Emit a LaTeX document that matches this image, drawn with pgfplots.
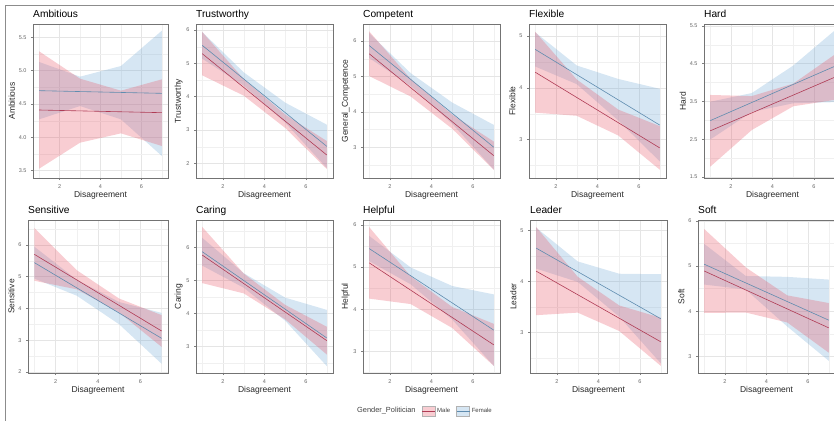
\documentclass[border=0pt]{standalone}
\usepackage{pgfplots}
\pgfplotsset{compat=1.18}
\usepackage{fontspec}
\setmainfont{Liberation Sans}
\definecolor{malefill}{RGB}{232,88,105}
\definecolor{femfill}{RGB}{118,172,215}
\definecolor{maleline}{HTML}{AF3C55}
\definecolor{femline}{HTML}{5F8CAF}
\pgfplotsset{
  panel/.style={
    scale only axis, width=137pt, height=154pt, anchor=north west,
    xmin=0.7, xmax=7.3, xtick={2,4,6}, minor xtick={1,3,5,7},
    grid=both,
    major grid style={draw=black!10, line width=0.45pt},
    minor grid style={draw=black!6, line width=0.3pt},
    axis line style={draw=black!55, line width=0.7pt},
    tick align=outside, major tick length=2pt, minor tick length=0pt,
    tick style={black!50, line width=0.4pt},
    xtick pos=bottom, ytick pos=left,
    ticklabel style={font=\fontsize{5.5}{6}\selectfont, text=black!60},
    xticklabel style={yshift=-1pt},
    yticklabel style={xshift=-1pt},
    /pgf/number format/assume math mode=true,
    xlabel={Disagreement},
    xlabel style={font=\fontsize{8.5}{9}\selectfont, text=black!85, yshift=3.5pt},
    ylabel style={font=\fontsize{8.5}{9}\selectfont, text=black!85, yshift=-3pt},
    title style={at={(0,1)}, anchor=base west, font=\fontsize{10.2}{11}\selectfont, inner sep=0pt, yshift=0.7pt},
  },
  fband/.style={draw=none, fill=femfill, fill opacity=0.3, forget plot},
  mband/.style={draw=none, fill=malefill, fill opacity=0.3, forget plot},
  fline/.style={femline, line width=0.6pt, forget plot},
  mline/.style={maleline, line width=0.6pt, forget plot},
}
\begin{document}
\begin{tikzpicture}
\path[use as bounding box] (0pt,0pt) rectangle (834pt,-420pt);
\clip (0pt,0pt) rectangle (834pt,-420pt);
\draw[black!45, line width=0.8pt] (5pt,-425pt) -- (5pt,-5pt) -- (840pt,-5pt);

% ---------- Row 1 ----------
\begin{axis}[panel, at={(33pt,-24pt)}, width=135pt,
  ymin=3.39, ymax=5.70, ytick={3.5,4,4.5,5,5.5}, yticklabels={3.5,4.0,4.5,5.0,5.5},
  minor ytick={3.75,4.25,4.75,5.25}, title={Ambitious}, ylabel={Ambitious}]
\addplot[fband] coordinates {(1,5.13)(3,4.91)(5,5.07)(7,5.60)(7,3.72)(5,4.27)(3,4.47)(1,4.27)} -- cycle;
\addplot[mband] coordinates {(1,5.29)(3,4.88)(5,4.70)(7,4.87)(7,3.87)(5,4.06)(3,3.92)(1,3.53)} -- cycle;
\addplot[fline] coordinates {(1,4.70)(7,4.66)};
\addplot[mline] coordinates {(1,4.41)(7,4.37)};
\end{axis}

\begin{axis}[panel, at={(196pt,-24pt)},
  ymin=1.56, ymax=6.18, ytick={2,3,4,5,6}, minor ytick={2.5,3.5,4.5,5.5},
  title={Trustworthy}, ylabel={Trustworthy}]
\addplot[fband] coordinates {(1,5.94)(3,4.73)(5,3.82)(7,3.16)(7,1.86)(5,3.22)(3,4.33)(1,5.14)} -- cycle;
\addplot[mband] coordinates {(1,5.94)(3,4.53)(5,3.46)(7,2.67)(7,1.83)(5,3.06)(3,4.03)(1,4.64)} -- cycle;
\addplot[fline] coordinates {(1,5.54)(7,2.51)};
\addplot[mline] coordinates {(1,5.29)(7,2.25)};
\end{axis}

\begin{axis}[panel, at={(363pt,-24pt)},
  ymin=2.13, ymax=6.48, ytick={3,4,5,6}, minor ytick={2.5,3.5,4.5,5.5},
  title={Competent}, ylabel={General\_Competence}]
\addplot[fband] coordinates {(1,6.22)(3,5.09)(5,4.26)(7,3.63)(7,2.37)(5,3.66)(3,4.73)(1,5.52)} -- cycle;
\addplot[mband] coordinates {(1,6.27)(3,4.93)(5,3.92)(7,3.16)(7,2.36)(5,3.52)(3,4.43)(1,5.01)} -- cycle;
\addplot[fline] coordinates {(1,5.87)(7,3.00)};
\addplot[mline] coordinates {(1,5.64)(7,2.76)};
\end{axis}

\begin{axis}[panel, at={(529pt,-24pt)},
  ymin=2.26, ymax=5.23, ytick={3,4,5}, minor ytick={2.5,3.5,4.5},
  title={Flexible}, ylabel={Flexible}]
\addplot[fband] coordinates {(1,5.07)(3,4.43)(5,4.17)(7,3.98)(7,2.58)(5,3.37)(3,4.07)(1,4.41)} -- cycle;
\addplot[mband] coordinates {(1,5.08)(3,4.16)(5,3.58)(7,3.26)(7,2.42)(5,3.08)(3,3.46)(1,3.52)} -- cycle;
\addplot[fline] coordinates {(1,4.74)(7,3.28)};
\addplot[mline] coordinates {(1,4.30)(7,2.84)};
\end{axis}

\begin{axis}[panel, at={(704pt,-24pt)},
  ymin=1.47, ymax=5.55, ytick={1.5,2.5,3.5,4.5,5.5}, minor ytick={2,3,4,5},
  title={Hard}, ylabel={Hard}]
\addplot[fband] coordinates {(1,3.49)(3,3.72)(5,4.45)(7,5.38)(7,3.48)(5,3.45)(3,3.22)(1,2.49)} -- cycle;
\addplot[mband] coordinates {(1,3.67)(3,3.64)(5,3.97)(7,4.74)(7,3.54)(5,3.37)(3,2.74)(1,1.77)} -- cycle;
\addplot[fline] coordinates {(1,2.99)(7,4.43)};
\addplot[mline] coordinates {(1,2.72)(7,4.14)};
\end{axis}

% ---------- Row 2 ----------
\begin{axis}[panel, at={(28pt,-220pt)}, width=140pt, height=153pt,
  ymin=1.97, ymax=6.78, ytick={2,3,4,5,6}, minor ytick={2.5,3.5,4.5,5.5,6.5},
  title={Sensitive}, ylabel={Sensitive}]
\addplot[fband] coordinates {(1,5.94)(3,4.90)(5,4.20)(7,3.86)(7,2.26)(5,3.50)(3,4.40)(1,4.94)} -- cycle;
\addplot[mband] coordinates {(1,6.53)(3,5.20)(5,4.31)(7,3.79)(7,2.79)(5,3.87)(3,4.60)(1,4.87)} -- cycle;
\addplot[fline] coordinates {(1,5.44)(7,3.06)};
\addplot[mline] coordinates {(1,5.70)(7,3.29)};
\end{axis}

\begin{axis}[panel, at={(196pt,-220pt)}, height=153pt,
  ymin=2.20, ymax=6.83, ytick={3,4,5,6}, minor ytick={2.5,3.5,4.5,5.5,6.5},
  title={Caring}, ylabel={Caring}]
\addplot[fband] coordinates {(1,6.29)(3,5.22)(5,4.48)(7,4.11)(7,2.41)(5,3.78)(3,4.78)(1,5.45)} -- cycle;
\addplot[mband] coordinates {(1,6.62)(3,5.21)(5,4.26)(7,3.60)(7,2.76)(5,3.82)(3,4.61)(1,4.92)} -- cycle;
\addplot[fline] coordinates {(1,5.87)(7,3.26)};
\addplot[mline] coordinates {(1,5.77)(7,3.18)};
\end{axis}

\begin{axis}[panel, at={(363pt,-220pt)}, height=153pt,
  ymin=2.48, ymax=6.12, ytick={3,4,5,6}, minor ytick={2.5,3.5,4.5,5.5},
  title={Helpful}, ylabel={Helpful},
  legend style={at={(0.449,-0.248)}, anchor=center, draw=none, fill=none,
    legend columns=3, font=\fontsize{6}{7}\selectfont, text=black!75,
    /tikz/every even column/.append style={column sep=4pt},
    legend cell align=left}]
\addplot[fband] coordinates {(1,5.74)(3,4.99)(5,4.55)(7,4.35)(7,2.65)(5,3.75)(3,4.59)(1,5.14)} -- cycle;
\addplot[mband] coordinates {(1,5.95)(3,4.78)(5,4.05)(7,3.65)(7,2.65)(5,3.55)(3,4.12)(1,4.25)} -- cycle;
\addplot[fline] coordinates {(1,5.44)(7,3.50)};
\addplot[mline] coordinates {(1,5.10)(7,3.15)};
\addlegendimage{empty legend}
\addlegendentry{\fontsize{7.4}{8}\selectfont Gender\_Politician}
\addlegendimage{legend image code/.code={
  \fill[malefill!30] (0pt,-5pt) rectangle (13pt,5pt);
  \draw[black!30, line width=0.3pt] (0pt,-5pt) rectangle (13pt,5pt);
  \draw[maleline, line width=0.6pt] (0pt,0pt) -- (13pt,0pt);}}
\addlegendentry{Male}
\addlegendimage{legend image code/.code={
  \fill[femfill!30] (0pt,-5pt) rectangle (13pt,5pt);
  \draw[black!30, line width=0.3pt] (0pt,-5pt) rectangle (13pt,5pt);
  \draw[femline, line width=0.6pt] (0pt,0pt) -- (13pt,0pt);}}
\addlegendentry{Female}
\end{axis}

\begin{axis}[panel, at={(530pt,-220pt)}, height=153pt,
  ymin=2.21, ymax=5.20, ytick={3,4,5}, minor ytick={2.5,3.5,4.5},
  title={Leader}, ylabel={Leader}]
\addplot[fband] coordinates {(1,5.05)(3,4.39)(5,4.15)(7,4.14)(7,2.40)(5,3.31)(3,3.99)(1,4.25)} -- cycle;
\addplot[mband] coordinates {(1,5.06)(3,4.09)(5,3.53)(7,3.29)(7,2.35)(5,3.03)(3,3.39)(1,3.34)} -- cycle;
\addplot[fline] coordinates {(1,4.65)(7,3.27)};
\addplot[mline] coordinates {(1,4.20)(7,2.82)};
\end{axis}

\begin{axis}[panel, at={(698pt,-220pt)}, height=153pt,
  ymin=2.63, ymax=6.02, ytick={3,4,5,6}, minor ytick={3.5,4.5,5.5},
  title={Soft}, ylabel={Soft}]
\addplot[fband] coordinates {(1,5.49)(3,4.78)(5,4.76)(7,4.70)(7,2.90)(5,3.66)(3,4.48)(1,4.59)} -- cycle;
\addplot[mband] coordinates {(1,5.82)(3,4.97)(5,4.35)(7,4.18)(7,3.08)(5,3.75)(3,3.97)(1,3.96)} -- cycle;
\addplot[fline] coordinates {(1,5.04)(7,3.80)};
\addplot[mline] coordinates {(1,4.89)(7,3.63)};
\end{axis}
\end{tikzpicture}
\end{document}
